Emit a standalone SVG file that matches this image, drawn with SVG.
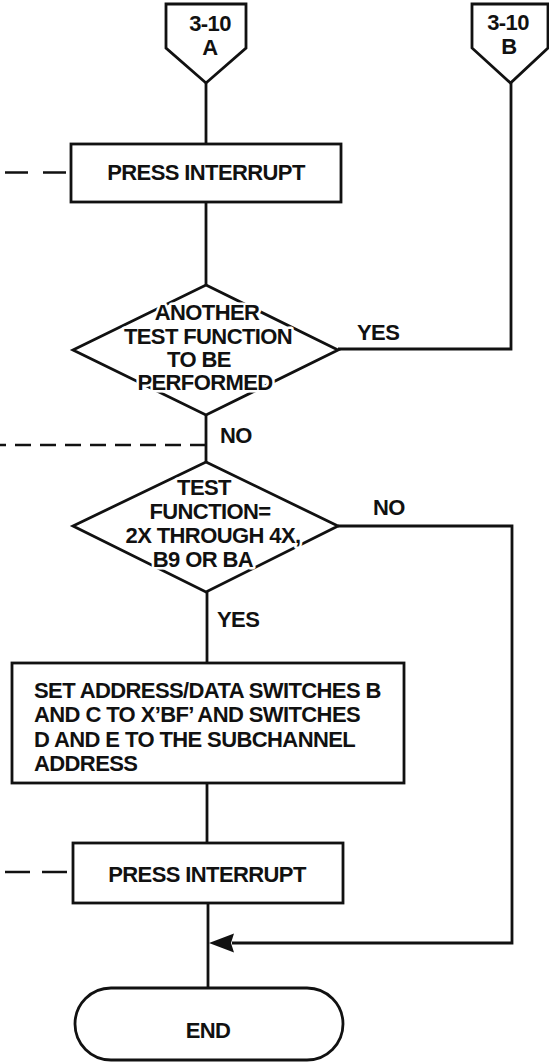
<svg xmlns="http://www.w3.org/2000/svg" width="549" height="1063" viewBox="0 0 549 1063">
<defs>
<style>
.s{fill:#fff;stroke:#111;stroke-width:2.8;stroke-linejoin:miter}
.l{fill:none;stroke:#111;stroke-width:2.8}
.d{fill:none;stroke:#111;stroke-width:2.6}
text{font-family:"Liberation Sans",Arial,sans-serif;font-weight:bold;font-size:22px;letter-spacing:-0.6px;fill:#111}
.c{text-anchor:middle}
.h{stroke:#fff;stroke-width:5;paint-order:stroke;stroke-linejoin:round}
</style>
</defs>
<rect width="549" height="1063" fill="#fff"/>
<g id="connectors">
<line class="l" x1="206" y1="83" x2="206" y2="144"/>
<line class="l" x1="206" y1="202" x2="206" y2="285"/>
<polyline class="l" points="338,349 511,349 511,83"/>
<line class="l" x1="206" y1="415" x2="206" y2="462"/>
<polyline class="l" points="338,526 512,526 512,943 232,943"/>
<path d="M209,943 L234,933.5 L231,943 L234,952.5 Z" fill="#111"/>
<line class="l" x1="207" y1="592" x2="207" y2="663"/>
<line class="l" x1="207" y1="783" x2="207" y2="843"/>
<line class="l" x1="208" y1="903" x2="208" y2="988"/>
<line class="d" x1="5" y1="172.5" x2="71" y2="172.5" stroke-dasharray="23 15"/>
<line class="d" x1="206" y1="445" x2="0" y2="445" stroke-dasharray="16 9"/>
<line class="d" x1="5" y1="872" x2="73" y2="872" stroke-dasharray="25 12"/>
</g>
<g id="offpage-a">
<polygon class="s" points="166,4 246,4 246,48 206,83 166,48"/>
<text class="c" x="210" y="31">3-10</text>
<text class="c" x="210" y="55">A</text>
</g>
<g id="offpage-b">
<polygon class="s" points="472,4 548,4 548,48 510.5,83 472,48"/>
<text class="c" x="508" y="30">3-10</text>
<text class="c" x="509" y="54">B</text>
</g>
<g id="press-interrupt-1">
<rect class="s" x="71" y="144" width="270" height="58"/>
<text class="c" x="206" y="180">PRESS INTERRUPT</text>
</g>
<g id="decision-another">
<polygon class="s" points="206,285 338,350 206,415 73,350"/>
<text class="c h" x="207" y="320">ANOTHER</text>
<text class="c h" x="208" y="344">TEST FUNCTION</text>
<text class="c h" x="199" y="367">TO BE</text>
<text class="c h" x="205" y="390">PERFORMED</text>
<text x="357" y="340">YES</text>
<text x="220" y="443">NO</text>
</g>
<g id="decision-function">
<polygon class="s" points="206,462 338,526 206,592 73,526"/>
<text class="c h" x="204" y="495">TEST</text>
<text class="c h" x="210" y="519">FUNCTION=</text>
<text class="c h" x="213" y="543">2X THROUGH 4X,</text>
<text class="c h" x="203" y="567">B9 OR BA</text>
<text x="373" y="515">NO</text>
<text x="217" y="627">YES</text>
</g>
<g id="set-switches">
<rect class="s" x="12" y="663" width="392" height="120"/>
<text x="34" y="698">SET ADDRESS/DATA SWITCHES B</text>
<text x="34" y="722">AND C TO X’BF’ AND SWITCHES</text>
<text x="34" y="747">D AND E TO THE SUBCHANNEL</text>
<text x="34" y="771">ADDRESS</text>
</g>
<g id="press-interrupt-2">
<rect class="s" x="73" y="843" width="270" height="60"/>
<text class="c" x="207" y="882">PRESS INTERRUPT</text>
</g>
<g id="end">
<rect class="s" x="75" y="988" width="268" height="72" rx="36" ry="36"/>
<text class="c" x="208" y="1038">END</text>
</g>
</svg>
